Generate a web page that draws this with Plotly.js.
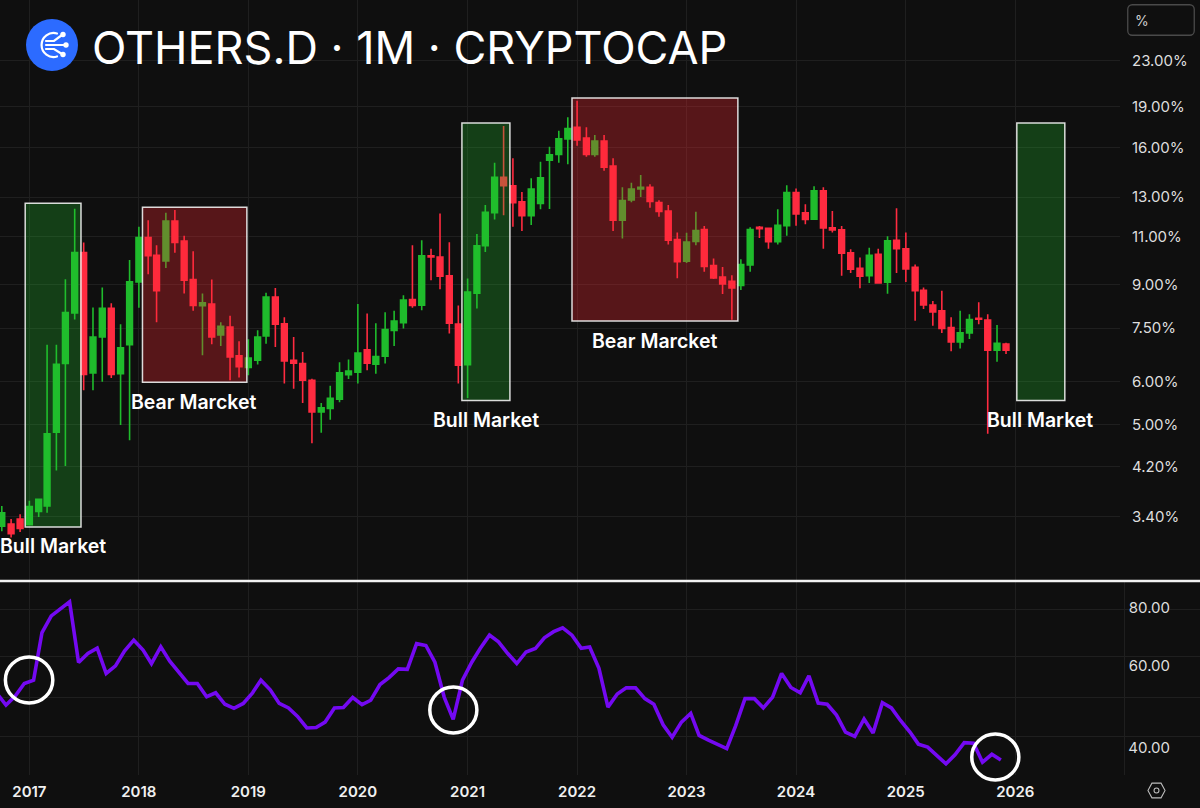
<!DOCTYPE html>
<html><head><meta charset="utf-8">
<script src="https://cdn.plot.ly/plotly-3.0.1.min.js"></script>
<style>html,body{margin:0;padding:0;background:#0f0f0f}#c{width:1200px;height:808px}</style>
</head><body><div id="c"></div>
<script>
const firstMonth = [2016, 10];
const open = [3.27,3.30,3.37,
3.29,3.48,3.56,4.85,6.47,8.00,10.30,6.22,7.23,8.15,6.20,7.00,
9.11,10.97,10.18,9.94,11.75,10.81,9.20,8.24,8.30,7.29,7.54,6.68,
6.36,6.56,7.26,8.55,7.64,6.56,6.47,6.03,5.28,5.36,5.57,6.17,
6.24,6.85,6.45,6.67,7.43,7.68,8.46,8.26,10.16,10.11,9.34,7.63,
6.44,8.69,10.60,12.17,14.13,13.63,12.74,12.02,12.65,15.18,15.55,16.58,
17.42,16.65,15.55,16.44,14.80,11.80,12.85,13.45,13.54,12.71,12.26,10.88,
9.93,10.79,11.35,9.76,9.30,9.13,8.97,9.78,11.45,11.40,10.78,11.53,
13.25,12.17,11.85,13.34,11.43,11.33,10.29,9.64,9.35,10.23,9.10,10.85,
10.47,9.68,8.79,8.27,8.07,7.52,7.08,7.35,7.82,7.76,6.84,7.02];
const high = [3.56,3.37,3.44,
3.64,3.66,7.00,7.00,9.21,12.38,10.75,8.18,8.90,8.33,7.63,9.98,
11.48,11.80,10.62,12.17,12.31,11.05,10.36,8.68,9.20,7.69,7.90,7.10,
7.16,7.44,8.70,8.88,7.85,7.23,6.79,6.07,5.48,5.89,6.50,6.58,
8.30,7.98,7.66,8.02,8.07,8.61,10.62,10.85,10.47,12.14,10.76,8.25,
9.24,11.13,12.57,15.01,17.51,15.29,13.28,14.06,15.07,16.06,17.17,18.16,
19.47,17.42,16.86,16.86,15.29,13.54,13.80,14.26,13.72,12.83,12.57,11.21,
11.19,12.22,11.51,10.05,9.70,9.37,10.02,11.45,11.51,11.40,12.35,13.66,
13.48,12.62,13.61,13.54,12.26,11.51,10.44,10.09,10.51,10.47,11.03,12.40,
11.21,9.80,8.90,8.41,8.78,7.85,8.07,7.95,8.36,7.95,7.60,7.06];
const low = [3.20,3.12,3.19,
3.28,3.40,3.46,4.13,4.21,7.78,5.78,5.78,5.99,6.09,5.00,4.69,
8.17,9.41,7.69,9.66,10.29,8.68,8.07,6.70,7.01,6.96,6.03,6.10,
6.16,6.44,7.03,6.93,5.95,5.82,5.48,4.63,4.84,5.11,5.50,6.06,
5.95,6.29,6.20,6.47,6.96,7.49,8.17,8.09,9.17,8.83,7.34,5.95,
5.60,8.15,10.33,11.83,12.05,11.48,11.28,11.56,12.35,12.37,15.01,14.91,
16.12,15.40,15.40,14.52,11.28,10.93,12.72,13.01,12.43,11.97,10.66,9.25,
9.86,10.62,9.50,9.22,8.66,7.77,8.80,9.50,10.95,10.47,10.66,11.05,
11.53,11.60,11.85,10.47,11.21,9.35,9.45,8.87,9.07,9.07,8.67,9.45,
9.10,7.74,8.13,7.58,7.35,6.81,6.89,7.17,7.63,4.82,6.52,6.73];
const close = [3.46,3.17,3.24,
3.55,3.66,4.82,6.45,8.01,10.30,6.18,7.23,8.15,6.18,6.91,9.11,
10.97,10.17,8.78,11.75,10.75,9.17,8.25,8.34,7.23,7.56,6.65,6.38,
6.62,7.23,8.55,7.63,6.54,6.48,6.03,5.28,5.37,5.59,6.22,6.27,
6.76,6.48,6.66,7.46,7.73,8.44,8.25,10.16,10.11,9.33,7.66,6.42,
8.73,10.60,12.19,14.13,13.63,12.69,12.02,13.45,14.09,15.52,16.60,17.32,
16.51,15.55,16.44,14.74,11.80,12.81,13.45,13.54,12.76,12.24,10.85,9.91,
10.76,11.30,9.72,9.26,9.03,8.88,9.80,11.35,11.38,10.78,11.55,13.25,
12.11,11.83,13.34,11.42,11.33,10.27,9.61,9.33,10.18,9.07,10.82,10.47,
9.62,8.78,8.27,8.03,7.49,7.08,7.36,7.78,7.79,6.84,7.04,6.84];
const rsi = [52.4,49.4,51.6,
55.0,55.9,70.8,76.9,79.6,82.5,61.0,63.8,65.5,57.8,60.0,64.6,
68.2,64.9,60.7,66.0,61.4,58.1,55.0,55.0,51.5,52.5,49.6,48.6,
49.8,52.5,55.9,53.3,49.8,48.7,46.7,44.1,44.2,45.4,48.7,48.8,
51.3,49.5,50.6,54.7,56.6,59.1,59.0,67.0,66.4,61.1,51.4,46.0,
55.9,61.1,65.4,69.9,67.6,63.8,60.7,64.3,65.4,69.0,71.1,72.5,
69.9,65.5,65.9,59.3,48.9,52.2,53.8,53.8,51.0,49.6,44.8,42.1,
45.4,47.4,42.5,41.5,40.6,39.8,44.6,51.0,51.0,48.7,51.4,57.8,
53.9,52.5,57.1,49.9,49.6,47.0,43.2,42.3,46.1,43.0,50.0,48.7,
45.7,43.2,40.7,40.1,38.5,36.9,38.6,41.0,40.9,37.2,38.7,37.6];
const priceTicks = [3.4,4.2,5,6,7.5,9,11,13,16,19,23];
const priceLabels = ['3.40%','4.20%','5.00%','6.00%','7.50%','9.00%','11.00%','13.00%','16.00%','19.00%','23.00%'];
const rsiTicks = [80,60,40];
const rsiLabels = ['80.00','60.00','40.00'];
const rsiGrid = [79.2,63.0,51.4,42.2];
const yearTicks = ['2017-01-01','2018-01-01','2019-01-01','2020-01-01','2021-01-01','2022-01-01','2023-01-01','2024-01-01','2025-01-01','2026-01-01','2027-01-01'];
const yearLabels = ['2017','2018','2019','2020','2021','2022','2023','2024','2025','2026',''];
const boxes = [
 {x0:'2016-12-18',x1:'2017-06-22',y0:3.26,y1:12.67,kind:'bull'},
 {x0:'2018-01-13',x1:'2018-12-27',y0:5.98,y1:12.46,kind:'bear'},
 {x0:'2020-12-13',x1:'2021-05-22',y0:5.54,y1:17.73,kind:'bull'},
 {x0:'2021-12-15',x1:'2023-06-21',y0:7.73,y1:19.69,kind:'bear'},
 {x0:'2026-01-06',x1:'2026-06-15',y0:5.54,y1:17.73,kind:'bull'}];
const rings = [['2016-10-13','2017-03-20',703,657],['2020-08-28','2021-02-01',733,687],['2025-08-09','2026-01-13',780,734]];
const tags = [['Bull Market',53,546],['Bear Marcket',194,402],['Bull Market',486,420],['Bear Marcket',654,341],['Bull Market',1040,420]];

const months = open.map((_, i) => {
  const t = firstMonth[0]*12 + firstMonth[1]-1 + i;
  return Math.floor(t/12) + '-' + String(t%12+1).padStart(2,'0') + '-01';
});
const W=1200,H=808,fx=v=>v/W,fy=v=>1-v/H;
const grid='#1f1f1f', bg='#0f0f0f', tickCol='#dedede', font='Inter, "Noto Sans", sans-serif';
const svg=s=>'data:image/svg+xml;charset=utf-8,'+encodeURIComponent(s);
const logo=svg('<svg xmlns="http://www.w3.org/2000/svg" viewBox="0 0 52 52"><circle cx="26" cy="26" r="26" fill="#2c6bff"/><g fill="none" stroke="#fff" stroke-width="2.2" stroke-linecap="round"><path d="M31 14.5A12 12 0 1 0 31 37.5"/><path d="M20 22H28L36 16"/><path d="M20 26H39"/><path d="M20 30H28L36 35"/></g><circle cx="37" cy="15.5" r="2.7" fill="#fff"/><circle cx="40" cy="26" r="2.7" fill="#fff"/><circle cx="37" cy="35.5" r="2.7" fill="#fff"/></svg>');
const gear=svg('<svg xmlns="http://www.w3.org/2000/svg" viewBox="0 0 20 18"><path d="M5.2 1.2H14.8L19 9L14.8 16.8H5.2L1 9Z" fill="none" stroke="#bdbdbd" stroke-width="1.1"/><circle cx="10" cy="9" r="2.6" fill="none" stroke="#bdbdbd" stroke-width="1.1"/></svg>');
const pbox=svg('<svg xmlns="http://www.w3.org/2000/svg" viewBox="0 0 68 32"><rect x="0.75" y="0.75" width="66.5" height="30.5" rx="4.5" fill="none" stroke="#4a4a4a" stroke-width="1.3"/></svg>');

const traces=[
 {type:'candlestick',x:months,open:open,high:high,low:low,close:close,xaxis:'x',yaxis:'y',whiskerwidth:0,
  increasing:{line:{color:'#1fbb2c',width:1.6},fillcolor:'#1fbb2c'},
  decreasing:{line:{color:'#ff2b40',width:1.6},fillcolor:'#ff2b40'},hoverinfo:'skip',showlegend:false},
 {type:'scatter',mode:'lines',x:[],y:[],xaxis:'x2',yaxis:'y2',hoverinfo:'skip',showlegend:false},
 {type:'scatter',mode:'lines',x:months,y:rsi,xaxis:'x3',yaxis:'y2',line:{color:'#7409f2',width:3.6,shape:'linear'},hoverinfo:'skip',showlegend:false}
];
const boxFill={bull:'rgba(35,200,45,0.26)',bear:'rgba(255,40,50,0.30)'};
const shapes=[];
boxes.forEach(b=>shapes.push({type:'rect',xref:'x',yref:'y',x0:b.x0,x1:b.x1,y0:b.y0,y1:b.y1,fillcolor:boxFill[b.kind],line:{color:'rgba(235,235,235,0.92)',width:1.5},layer:'above'}));
rings.forEach(r=>shapes.push({type:'circle',xref:'x2',yref:'paper',x0:r[0],x1:r[1],y0:fy(r[2]),y1:fy(r[3]),line:{color:'#ffffff',width:3.5},fillcolor:'rgba(0,0,0,0)',layer:'above'}));
shapes.push({type:'line',xref:'paper',yref:'paper',x0:0,x1:1,y0:fy(581),y1:fy(581),line:{color:'#f2f2f2',width:2.5},layer:'above'});
const annotations=tags.map(t=>({xref:'paper',yref:'paper',x:fx(t[1]),y:fy(t[2]),text:t[0],showarrow:false,xanchor:'center',yanchor:'middle',font:{family:font,size:19.5,color:'#ffffff',weight:600}}));
annotations.push({xref:'paper',yref:'paper',x:fx(92),y:fy(47),text:'OTHERS.D · 1M · CRYPTOCAP',showarrow:false,xanchor:'left',yanchor:'middle',xshift:-2,font:{family:font,size:45,color:'#ffffff',weight:400}});
annotations.push({xref:'paper',yref:'paper',x:fx(1133),y:fy(20),text:'%',showarrow:false,xanchor:'left',yanchor:'middle',font:{family:font,size:14,color:'#cfcfcf'}});
const yearAxis={type:'date',tickmode:'array',tickvals:yearTicks,ticktext:yearLabels,showgrid:true,gridcolor:grid,gridwidth:1,zeroline:false,showline:false,ticks:''};
const layout={
 width:W,height:H,margin:{l:0,r:0,t:0,b:0},paper_bgcolor:bg,plot_bgcolor:bg,showlegend:false,boxgap:0.28,boxgroupgap:0.05,
 xaxis:Object.assign({},yearAxis,{domain:[0,fx(1120)],range:['2016-09-25','2026-12-16'],anchor:'y',showticklabels:false,rangeslider:{visible:false}}),
 xaxis2:Object.assign({},yearAxis,{domain:[0,1],range:['2016-09-25','2027-09-09'],anchor:'y2',showticklabels:true,
   tickfont:{family:font,size:15,color:'#f0f0f0',weight:600},ticklabelstandoff:6}),
 xaxis3:{type:'date',domain:[0,1],range:['2016-10-12','2027-09-26'],anchor:'y2',overlaying:'x2',visible:false},
 yaxis:{type:'log',domain:[fy(580),1],range:[0.4166,1.4728],anchor:'x',side:'right',tickmode:'array',tickvals:priceTicks,ticktext:priceLabels,
   showgrid:true,gridcolor:grid,zeroline:false,showline:false,ticks:'',tickfont:{family:font,size:15,color:tickCol},ticklabelstandoff:11},
 yaxis2:{type:'log',domain:[fy(775),fy(582)],range:[1.543,1.959],anchor:'x2',side:'right',tickmode:'array',tickvals:rsiTicks,ticktext:rsiLabels,
   showgrid:false,zeroline:false,showline:false,ticks:'',ticklabelposition:'inside',ticklabelstandoff:27,tickfont:{family:font,size:15,color:tickCol},
   minor:{tickmode:'array',tickvals:rsiGrid,showgrid:true,gridcolor:grid,ticks:''}},
 shapes:shapes,annotations:annotations,
 images:[
  {source:logo,xref:'paper',yref:'paper',x:fx(26),y:fy(19),sizex:fx(52),sizey:52/H,xanchor:'left',yanchor:'top',sizing:'stretch',layer:'above'},
  {source:pbox,xref:'paper',yref:'paper',x:fx(1127),y:fy(4),sizex:fx(68),sizey:32/H,xanchor:'left',yanchor:'top',sizing:'stretch',layer:'above'},
  {source:gear,xref:'paper',yref:'paper',x:fx(1147),y:fy(782),sizex:fx(19),sizey:17/H,xanchor:'left',yanchor:'top',sizing:'stretch',layer:'above'}
 ]
};
Plotly.newPlot('c',traces,layout,{displayModeBar:false,staticPlot:true});
</script></body></html>
